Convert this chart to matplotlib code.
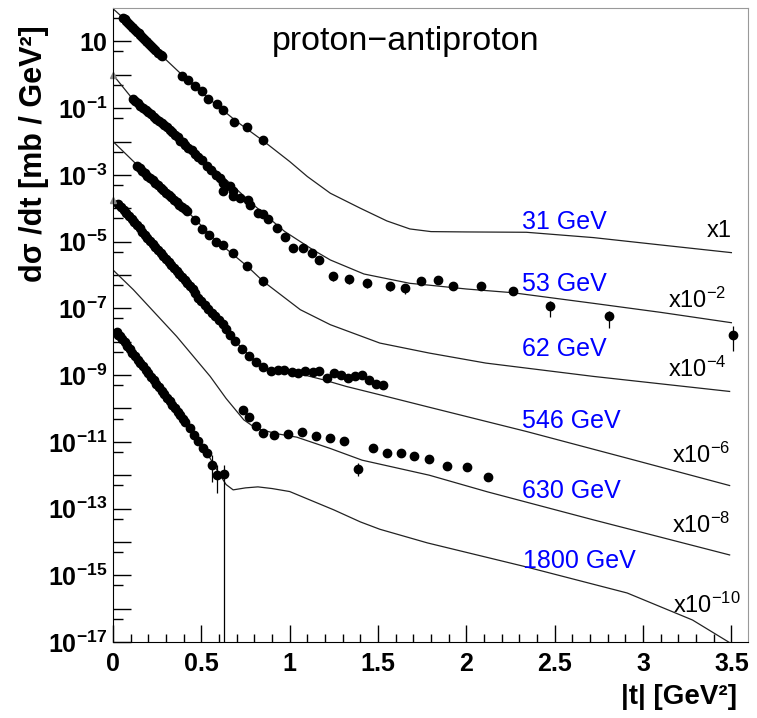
import numpy as np
import matplotlib
matplotlib.use("Agg")
from matplotlib import pyplot as plt
from matplotlib.ticker import FixedLocator, FuncFormatter

plt.rcParams['font.family'] = ['Liberation Sans', 'DejaVu Sans']
plt.rcParams['mathtext.fontset'] = 'custom'
plt.rcParams['mathtext.rm'] = 'Liberation Sans'
plt.rcParams['mathtext.bf'] = 'Liberation Sans:bold'
plt.rcParams['mathtext.it'] = 'Liberation Sans:italic'

# energies and scale factors (values stored as log10 of the scaled dsigma/dt)
energies = ["31 GeV", "53 GeV", "62 GeV", "546 GeV", "630 GeV", "1800 GeV"]
scales = ["x1", "x10$^{-2}$", "x10$^{-4}$", "x10$^{-6}$", "x10$^{-8}$", "x10$^{-10}$"]

##### data points #####
t_31 = [0.055, 0.065, 0.075, 0.085, 0.095, 0.105, 0.115, 0.125, 0.135, 0.145, 0.155,
        0.165, 0.175, 0.185, 0.195, 0.205, 0.215, 0.225, 0.24, 0.255, 0.27, 0.28,
        0.389, 0.426, 0.464, 0.502, 0.539, 0.587, 0.624, 0.685, 0.76, 0.847]
lg_31 = [1.71, 1.66, 1.60, 1.55, 1.50, 1.44, 1.39, 1.34, 1.28, 1.24, 1.19,
         1.13, 1.07, 1.02, 0.97, 0.91, 0.86, 0.81, 0.73, 0.66, 0.58, 0.55,
         -0.04, -0.17, -0.34, -0.49, -0.74, -0.89, -1.07, -1.41, -1.57, -1.94]

t_53 = [0.111, 0.125, 0.14, 0.155, 0.17, 0.185, 0.2, 0.215, 0.23, 0.245, 0.26, 0.275,
        0.29, 0.305, 0.32, 0.335, 0.35, 0.365, 0.379, 0.395, 0.41, 0.426, 0.445, 0.464,
        0.483, 0.502, 0.53, 0.555, 0.583, 0.604, 0.624, 0.624, 0.66, 0.681, 0.681, 0.719,
        0.766, 0.775, 0.822, 0.851, 0.879, 0.926, 0.973, 1.02, 1.073, 1.124, 1.168,
        1.247, 1.336, 1.435, 1.568, 1.653, 1.746, 1.84, 1.922, 2.083, 2.266, 2.473,
        2.809, 3.51]
lg_53 = [-0.74, -0.80, -0.86, -0.93, -1.00, -1.06, -1.12, -1.19, -1.26, -1.32, -1.39, -1.45,
         -1.52, -1.58, -1.66, -1.72, -1.79, -1.86, -1.98, -2.02, -2.10, -2.19, -2.26, -2.36,
         -2.45, -2.55, -2.72, -2.85, -2.99, -3.10, -3.24, -3.49, -3.32, -3.49, -3.64, -3.69,
         -3.76, -3.89, -4.14, -4.16, -4.32, -4.59, -4.86, -5.19, -5.19, -5.34, -5.54,
         -6.04, -6.12, -6.24, -6.32, -6.38, -6.19, -6.14, -6.32, -6.32, -6.49, -6.92,
         -7.22, -7.79]

t_62 = [0.134, 0.15, 0.165, 0.18, 0.195, 0.21, 0.225, 0.24, 0.255, 0.27, 0.285, 0.3,
        0.315, 0.33, 0.345, 0.36, 0.375, 0.39, 0.405, 0.417, 0.464, 0.502, 0.543, 0.583,
        0.624, 0.681, 0.76, 0.847]
lg_62 = [-2.72, -2.80, -2.87, -2.94, -3.02, -3.09, -3.16, -3.24, -3.31, -3.38, -3.45, -3.53,
         -3.60, -3.67, -3.75, -3.82, -3.89, -3.96, -4.03, -4.09, -4.34, -4.62, -4.79, -5.02,
         -5.09, -5.34, -5.74, -6.19]

t_546 = [0.03, 0.045, 0.06, 0.075, 0.09, 0.105, 0.12, 0.135, 0.15, 0.165, 0.18, 0.195,
         0.21, 0.225, 0.24, 0.255, 0.27, 0.285, 0.30, 0.315, 0.33, 0.345, 0.36, 0.375,
         0.39, 0.405, 0.42, 0.435, 0.45, 0.465, 0.483, 0.50, 0.52, 0.54, 0.56, 0.58,
         0.60, 0.62, 0.64, 0.662, 0.69, 0.728, 0.772, 0.809, 0.851, 0.892, 0.932, 0.969,
         1.011, 1.049, 1.088, 1.13, 1.168, 1.209, 1.251, 1.29, 1.328, 1.37, 1.409, 1.451,
         1.487, 1.526]
lg_546 = [-3.88, -3.97, -4.06, -4.15, -4.24, -4.33, -4.42, -4.51, -4.60, -4.70, -4.79, -4.88,
          -4.97, -5.06, -5.15, -5.24, -5.33, -5.42, -5.51, -5.60, -5.70, -5.79, -5.88, -5.97,
          -6.06, -6.15, -6.24, -6.33, -6.42, -6.54, -6.69, -6.79, -6.91, -7.03, -7.14, -7.24,
          -7.36, -7.48, -7.62, -7.79, -7.99, -8.22, -8.44, -8.62, -8.76, -8.87, -8.84, -8.86,
          -8.91, -8.94, -8.87, -8.91, -8.89, -9.09, -8.94, -8.99, -9.09, -9.04, -9.01, -9.16,
          -9.26, -9.30]

t_630 = [0.734, 0.772, 0.809, 0.851, 0.911, 0.988, 1.068, 1.149, 1.228, 1.307, 1.388,
         1.469, 1.548, 1.628, 1.705, 1.788, 1.888, 2.006, 2.124]
lg_630 = [-10.06, -10.26, -10.54, -10.74, -10.79, -10.76, -10.72, -10.82, -10.89, -10.99, -11.82,
          -11.19, -11.34, -11.34, -11.41, -11.51, -11.72, -11.76, -12.06]

t_1800 = [0.02, 0.03, 0.04, 0.05, 0.065, 0.08, 0.095, 0.11, 0.125, 0.14, 0.155, 0.17,
          0.185, 0.2, 0.215, 0.23, 0.245, 0.26, 0.275, 0.29, 0.305, 0.32, 0.335, 0.35,
          0.365, 0.38, 0.395, 0.41, 0.436, 0.46, 0.483, 0.51, 0.53, 0.558, 0.587, 0.628]
lg_1800 = [-7.72, -7.79, -7.84, -7.92, -8.02, -8.12, -8.23, -8.33, -8.44, -8.54, -8.65, -8.74,
           -8.85, -8.95, -9.06, -9.16, -9.27, -9.37, -9.47, -9.58, -9.68, -9.79, -9.89, -10.0,
           -10.10, -10.20, -10.31, -10.41, -10.59, -10.80, -10.99, -11.18, -11.34, -11.69, -11.99, -11.96]

##### error bars (t, log10 value, up, down in decades) #####
err_t = [0.76, 0.847, 1.247, 1.336, 1.435, 1.568, 1.653, 1.922, 2.266, 2.473, 2.809, 3.51,
         0.76, 0.847, 0.809, 1.388, 0.558, 0.587, 0.628]
err_lg = [-1.57, -1.94, -6.04, -6.12, -6.24, -6.32, -6.38, -6.32, -6.49, -6.92, -7.22, -7.79,
          -5.74, -6.19, -8.62, -11.82, -11.69, -11.99, -11.96]
err_up = [0.08, 0.12, 0.05, 0.05, 0.05, 0.05, 0.05, 0.03, 0.05, 0.13, 0.13, 0.25,
          0.08, 0.12, 0.08, 0.2, 0.3, 0.3, 0.27]
err_dn = [0.08, 0.15, 0.15, 0.15, 0.15, 0.15, 0.2, 0.1, 0.12, 0.34, 0.37, 0.5,
          0.08, 0.15, 0.1, 0.2, 0.5, 0.55, 7.0]

##### model curves #####
c31_t = [0.0, 0.05, 0.15, 0.28, 0.40, 0.55, 0.70, 0.85, 1.00, 1.10, 1.23, 1.40, 1.55, 1.68,
         1.80, 2.00, 2.34, 2.72, 3.10, 3.50]
c31_lg = [1.98, 1.74, 1.20, 0.55, -0.05, -0.75, -1.40, -1.98, -2.60, -3.05, -3.55, -4.00, -4.38, -4.62,
          -4.70, -4.71, -4.72, -4.88, -5.10, -5.33]

c53_t = [0.0, 0.11, 0.25, 0.43, 0.53, 0.66, 0.80, 0.97, 1.13, 1.23, 1.42, 1.68, 1.78, 2.00,
         2.26, 2.72, 3.10, 3.50]
c53_lg = [0.0, -0.72, -1.35, -2.17, -2.62, -3.24, -3.92, -4.69, -5.24, -5.55, -5.97, -6.25, -6.30, -6.42,
          -6.53, -6.85, -7.12, -7.43]

c62_t = [0.0, 0.134, 0.42, 0.58, 0.76, 0.85, 1.06, 1.23, 1.51, 1.79, 2.11, 2.72, 3.49]
c62_lg = [-2.0, -2.69, -4.09, -4.95, -5.74, -6.19, -7.04, -7.49, -8.04, -8.34, -8.64, -9.04, -9.49]

c546_t = [0.0, 0.04, 0.25, 0.48, 0.66, 0.73, 0.81, 0.89, 1.04, 1.19, 1.32, 1.51, 1.78,
          2.34, 2.91, 3.49]
c546_lg = [-3.74, -3.94, -5.25, -6.69, -7.79, -8.2, -8.6, -8.85, -8.94, -9.14, -9.34, -9.59, -9.95,
           -10.69, -11.49, -12.31]

c630_t = [0.0, 0.115, 0.36, 0.55, 0.64, 0.74, 0.81, 0.93, 1.04, 1.23, 1.41, 1.79, 2.12, 2.72, 3.49]
c630_lg = [-5.85, -6.44, -7.84, -9.04, -9.70, -10.34, -10.6, -10.76, -10.86, -11.2, -11.55, -12.0,
           -12.5, -13.34, -14.39]

c1800_t = [0.0, 0.04, 0.2, 0.44, 0.55, 0.60, 0.64, 0.68, 0.75, 0.82, 0.90, 1.0, 1.25, 1.40,
           1.51, 1.78, 2.34, 2.91, 3.28, 3.50]
c1800_lg = [-7.65, -7.84, -8.95, -10.55, -11.5, -11.95, -12.28, -12.44, -12.38, -12.35, -12.40, -12.49,
            -13.04, -13.4, -13.62, -14.03, -14.75, -15.53, -16.34, -17.05]

# label positions (t, log10 baseline)
energy_t = [2.313, 2.313, 2.313, 2.317, 2.317, 2.322]
energy_lg = [-4.61, -6.49, -8.44, -10.59, -12.69, -14.79]
scale_t = [3.36, 3.14, 3.14, 3.164, 3.164, 3.17]
scale_lg = [-4.85, -6.98, -9.05, -11.63, -13.73, -16.13]

fig = plt.figure(figsize=(7.57, 7.18), dpi=100)
ax = fig.add_axes([0.1493, 0.1058, 0.8388, 0.8830])
ax.set_yscale("log")

curves = [(c31_t, c31_lg), (c53_t, c53_lg), (c62_t, c62_lg),
          (c546_t, c546_lg), (c630_t, c630_lg), (c1800_t, c1800_lg)]
for ct, clg in curves:
    ax.plot(ct, 10**np.array(clg), color="#222222", lw=0.9)

data = [(t_31, lg_31), (t_53, lg_53), (t_62, lg_62),
        (t_546, lg_546), (t_630, lg_630), (t_1800, lg_1800)]
for dt, dlg in data:
    ax.plot(dt, 10**np.array(dlg), "o", ms=6, color="black", mec="black")

elg = np.array(err_lg)
ax.vlines(err_t, 10**(elg - np.array(err_dn)), 10**(elg + np.array(err_up)),
          color="black", lw=0.9)

# little triangles at t=0
ax.plot([0.0, 0.0], [10**0.0, 10**-3.74], "^", ms=5, color="#888888", clip_on=False)

for name, tx, ty in zip(energies, energy_t, energy_lg):
    ax.text(tx, 10**ty, name, color="blue", fontsize=18, ha="left", va="baseline")
for name, tx, ty in zip(scales, scale_t, scale_lg):
    ax.text(tx, 10**ty, name, color="black", fontsize=17, ha="left", va="baseline")

ax.text(0.25, 0.934, "proton\u2212antiproton", transform=ax.transAxes,
        fontsize=24.5, ha="left", va="baseline")

ax.set_xlim(0, 3.594)
ax.set_ylim(1e-17, 1e2)

ax.xaxis.set_major_locator(FixedLocator([0, 0.5, 1, 1.5, 2, 2.5, 3, 3.5]))
ax.xaxis.set_minor_locator(FixedLocator(np.arange(0, 3.6, 0.1)))
ax.xaxis.set_major_formatter(FuncFormatter(lambda v, p: "%g" % v))

decades = np.arange(-17, 2)
ax.yaxis.set_major_locator(FixedLocator(10.0**decades))
ax.yaxis.set_minor_locator(FixedLocator(5 * 10.0**np.arange(-17, 2)))

def ylab(v, pos):
    n = int(round(np.log10(v)))
    if n % 2 == 0:
        return ""
    if n == 1:
        return r"$\mathbf{10}$"
    return r"$\mathbf{10^{%d}}$" % n

ax.yaxis.set_major_formatter(FuncFormatter(ylab))

ax.tick_params(axis="both", which="both", direction="in", top=False, right=False)
ax.tick_params(axis="y", which="major", length=13, width=1, labelsize=18, pad=4)
ax.tick_params(axis="y", which="minor", length=7, width=1)
ax.tick_params(axis="x", which="major", length=12, width=1, labelsize=18, pad=7)
ax.tick_params(axis="x", which="minor", length=6, width=1)
for lab in ax.get_xticklabels():
    lab.set_fontweight("bold")

ax.spines["left"].set_color("black")
ax.spines["bottom"].set_color("black")
ax.spines["top"].set_color("#999999")
ax.spines["right"].set_color("#999999")

fig.text(0.045, 1 - 154 / 718, "d\u03c3 /dt [mb / GeV\u00b2]", rotation=90,
         ha="center", va="center", fontsize=22, fontweight="bold")
fig.text(0.973, 0.029, "|t| [GeV\u00b2]", ha="right", va="center",
         fontsize=20, fontweight="bold")

fig.savefig("out.png", dpi=100)
